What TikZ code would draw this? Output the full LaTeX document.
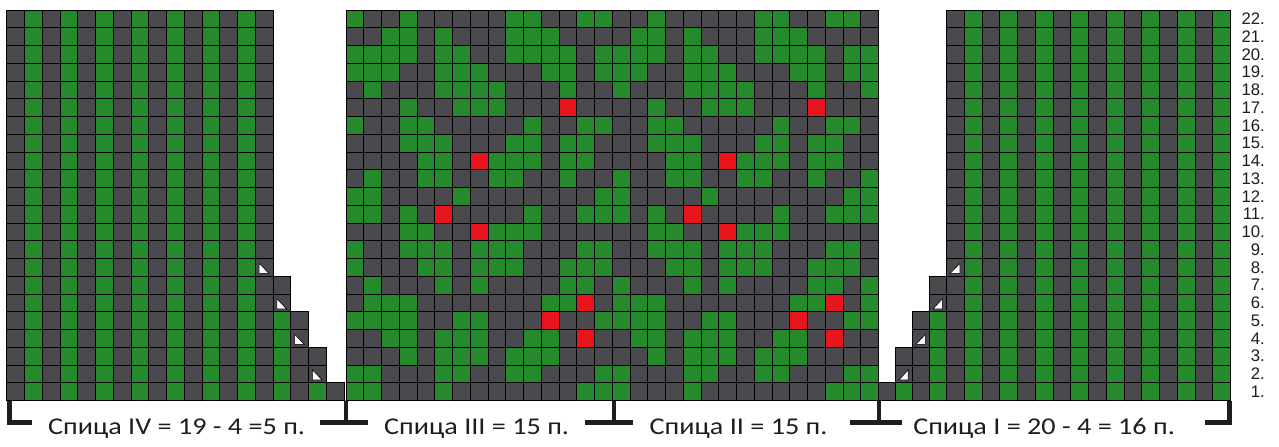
\documentclass[tikz,border=0pt]{standalone}
\usepackage{fontspec}
\setmainfont{Carlito}
\newfontfamily\labelfont[FakeStretch=1.17]{Carlito}
\newfontfamily\numfont{Liberation Sans}
\usetikzlibrary{positioning}

\definecolor{knitD}{RGB}{74,73,78}
\definecolor{knitG}{RGB}{38,138,44}
\definecolor{knitR}{RGB}{232,22,28}
\definecolor{inkdark}{RGB}{30,30,30}

\begin{document}
\begin{tikzpicture}[
    x=0.5cm, y=0.5cm,
    knit_cell/.style={
        draw=black,
        line width=0.7pt
    },
    dec_mark/.style={
        fill=white,
        draw=black,
        line width=0.5pt
    },
    bracket/.style={
        draw=inkdark,
        line width=3.4pt
    },
    needle/.style={
        font=\labelfont\fontsize{19.3}{22}\selectfont,
        text=inkdark,
        anchor=base,
        inner sep=0pt
    },
    rownum/.style={
        font=\numfont\fontsize{13.4}{14}\selectfont,
        text=inkdark,
        anchor=east,
        inner sep=0pt
    }
]

    % Canvas
    \useasboundingbox[fill=white] (0,0) rectangle (72.056,25.127);

    % Needle IV (left part, decreases on the right)
    \begin{scope}[shift={(0.377,2.563)}]
        \foreach \k in {1,...,15}{
            \ifodd\k \def\shade{knitD}\else \def\shade{knitG}\fi
            \foreach \rw in {1,...,22}
                \filldraw[knit_cell, fill=\shade] (\k-1,\rw-1) rectangle ++(1,1);
        }
        \foreach \k/\h/\shade in {16/7/knitG, 17/5/knitD, 18/3/knitG, 19/1/knitD}{
            \foreach \rw in {1,...,\h}{
                \ifnum\rw<\numexpr\h-1\relax \def\fillc{\shade}\else \def\fillc{knitD}\fi
                \filldraw[knit_cell, fill=\fillc] (\k-1,\rw-1) rectangle ++(1,1);
            }
        }
        \foreach \k/\rw in {15/8, 16/6, 17/4, 18/2}
            \filldraw[dec_mark] (\k-0.78,\rw-0.27) -- (\k-0.78,\rw-0.84) -- (\k-0.22,\rw-0.84) -- cycle;
    \end{scope}

    % Needles III and II (motif, 14 stitches repeat)
    \begin{scope}[shift={(19.493,2.563)}]
        \foreach \row [count=\rw] in {
            {G,D,D,G,D,D,D,D,D,G,G,D,D,G}, % 22
            {D,D,G,G,D,G,D,D,D,G,G,G,D,D}, % 21
            {G,G,G,G,D,G,G,D,D,G,G,G,G,D}, % 20
            {G,G,G,D,D,G,G,G,D,D,D,G,G,D}, % 19
            {D,G,D,D,D,G,G,G,G,D,D,D,G,D}, % 18
            {D,D,D,G,D,D,G,G,G,D,D,D,R,D}, % 17
            {G,D,D,G,G,D,D,D,D,D,G,D,D,G}, % 16
            {D,D,D,G,G,G,D,D,D,G,G,D,G,G}, % 15
            {D,D,D,D,G,G,D,R,G,G,G,D,G,G}, % 14
            {D,G,D,D,G,G,D,D,G,G,D,D,G,D}, % 13
            {G,G,D,D,D,D,G,D,D,D,D,D,D,D}, % 12
            {G,G,D,G,D,R,D,D,D,D,G,D,D,G}, % 11
            {D,D,D,G,G,D,D,R,G,G,G,D,D,D}, % 10
            {G,D,D,G,G,G,D,G,G,G,D,D,D,G}, % 9
            {G,D,D,D,G,G,D,G,G,G,D,D,G,G}, % 8
            {D,G,D,D,D,G,D,G,D,D,D,D,G,G}, % 7
            {D,G,G,G,D,D,D,D,D,D,D,G,G,R}, % 6
            {G,G,G,G,D,D,G,G,D,D,D,R,D,D}, % 5
            {D,D,G,G,D,G,G,G,D,D,G,G,D,R}, % 4
            {D,D,D,G,D,G,G,G,D,G,G,G,D,D}, % 3
            {G,G,D,D,D,G,G,D,D,G,G,D,D,D}, % 2
            {G,G,D,D,D,G,D,D,D,D,D,D,D,G}% 1
        }{
            \foreach \st [count=\k] in \row {
                \foreach \off in {0,14,28}{
                    \pgfmathtruncatemacro\colno{\k+\off}
                    \ifnum\colno<31
                        \filldraw[knit_cell, fill=knit\st] (\colno-1,22-\rw) rectangle ++(1,1);
                    \fi
                }
            }
        }
    \end{scope}

    % Needle I (right part, decreases on the left)
    \begin{scope}[shift={(53.33,2.563)}]
        \foreach \k in {1,...,16}{
            \ifodd\k \def\shade{knitD}\else \def\shade{knitG}\fi
            \foreach \rw in {1,...,22}
                \filldraw[knit_cell, fill=\shade] (\k-1,\rw-1) rectangle ++(1,1);
        }
        \filldraw[dec_mark] (0.75,7.73) -- (0.75,7.16) -- (0.2,7.16) -- cycle;
        \begin{scope}[xscale=0.96]
            \foreach \j/\h/\shade in {1/7/knitG, 2/5/knitD, 3/3/knitG, 4/1/knitD}{
                \foreach \rw in {1,...,\h}{
                    \ifnum\rw<\numexpr\h-1\relax \def\fillc{\shade}\else \def\fillc{knitD}\fi
                    \filldraw[knit_cell, fill=\fillc] (-\j,\rw-1) rectangle ++(1,1);
                }
            }
            \foreach \j/\rw in {1/6, 2/4, 3/2}
                \filldraw[dec_mark] (0.75-\j,\rw-0.27) -- (0.75-\j,\rw-0.84) -- (0.2-\j,\rw-0.84) -- cycle;
        \end{scope}
    \end{scope}

    % Row numbers
    \foreach \rw in {1,...,22}
        \node[rownum] (num\rw) at (71.27,\rw+2.063) {\rw.};

    % Needle labels
    \node[needle] (needleIV) at (9.95,0.62) {Спица IV = 19 - 4 =5 п.};
    \node[needle] (needleIII) at (26.85,0.62) {Спица III = 15 п.};
    \node[needle] (needleII) at (41.61,0.62) {Спица II = 15 п.};
    \node[needle] (needleI) at (58.82,0.62) {Спица I = 20 - 4 = 16 п.};

    % Brackets under the needles
    \coordinate (tickA) at (0.535,2.563);
    \coordinate (tickB) at (19.49,2.563);
    \coordinate (tickC) at (34.59,2.563);
    \coordinate (tickD) at (49.52,2.563);
    \coordinate (tickE) at (69.27,2.563);
    \coordinate (gapIVw) at (1.80,1.324);
    \coordinate (gapIVe) at (18.03,1.324);
    \coordinate (gapIIIw) at (20.73,1.324);
    \coordinate (gapIIIe) at (32.96,1.324);
    \coordinate (gapIIw) at (35.66,1.324);
    \coordinate (gapIIe) at (47.89,1.324);
    \coordinate (gapIw) at (50.82,1.324);
    \coordinate (gapIe) at (67.89,1.324);
    \draw[bracket] (tickA) |- (gapIVw);
    \draw[bracket] (gapIVe) -| (tickB) |- (gapIIIw);
    \draw[bracket] (gapIIIe) -| (tickC) |- (gapIIw);
    \draw[bracket] (gapIIe) -| (tickD) |- (gapIw);
    \draw[bracket] (gapIe) -| (tickE);

\end{tikzpicture}
\end{document}
